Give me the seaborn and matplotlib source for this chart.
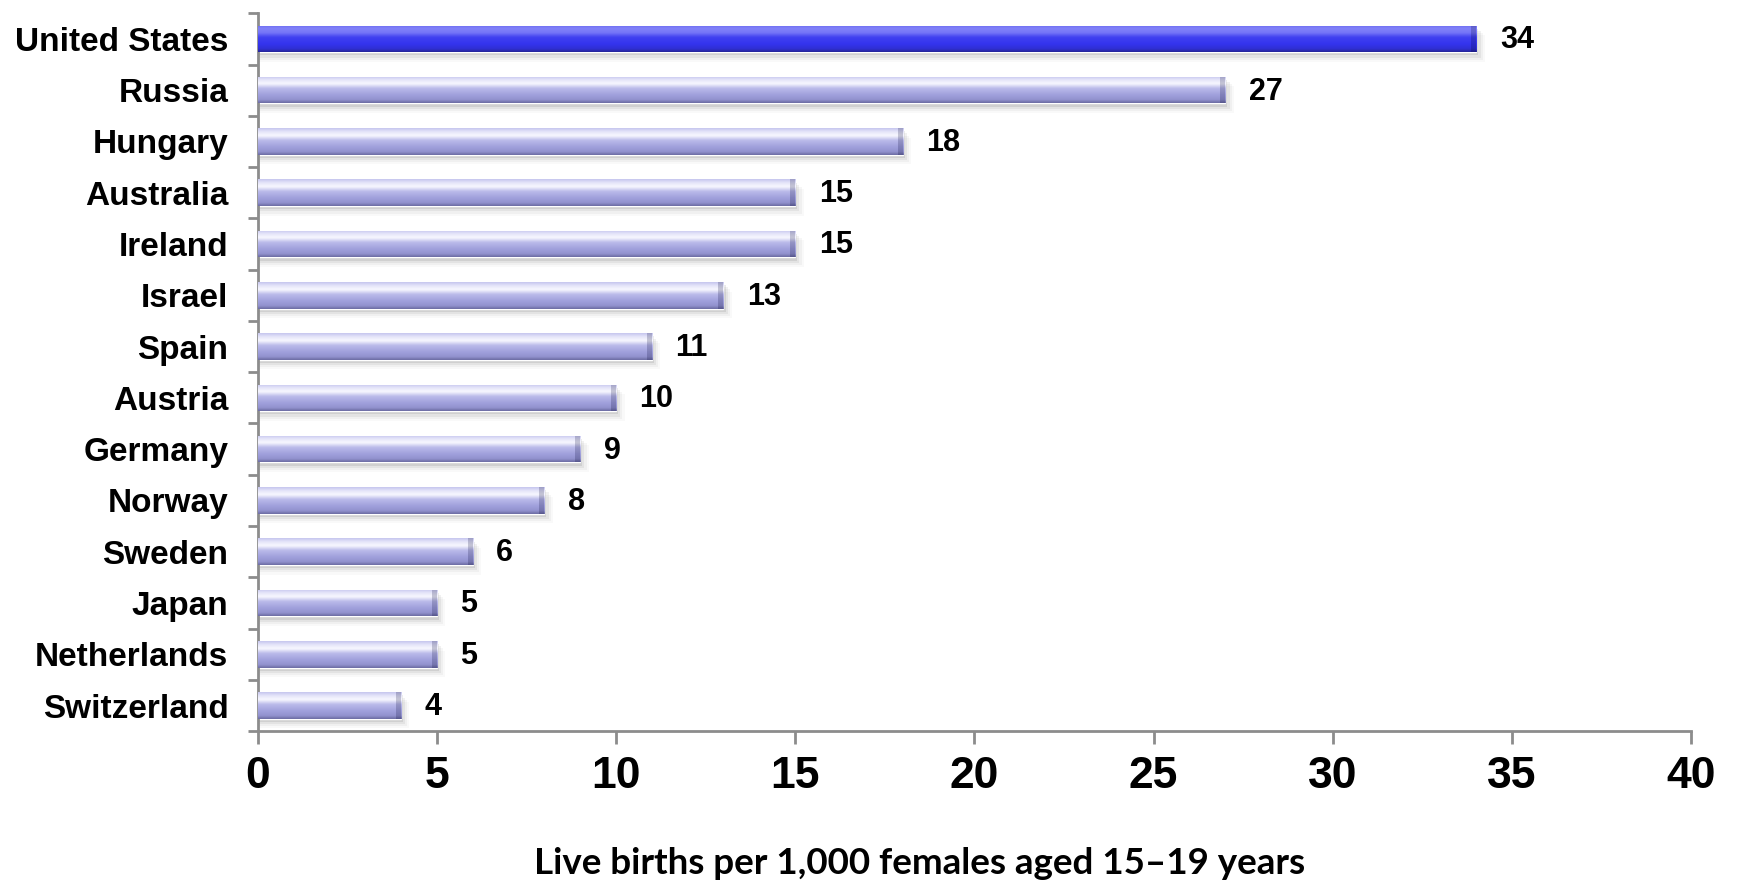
import numpy as np
import pandas as pd
import matplotlib
matplotlib.use("Agg")
import matplotlib.pyplot as plt
from matplotlib.colors import LinearSegmentedColormap
from matplotlib.patches import Rectangle
import seaborn as sns

countries = ["United States", "Russia", "Hungary", "Australia", "Ireland", "Israel",
             "Spain", "Austria", "Germany", "Norway", "Sweden", "Japan",
             "Netherlands", "Switzerland"]
births = [34, 27, 18, 15, 15, 13, 11, 10, 9, 8, 6, 5, 5, 4]
highlight = ["United States"]
x_ticks = [0, 5, 10, 15, 20, 25, 30, 35, 40]
x_label = "Live births per 1,000 females aged 15\u201319 years"

df = pd.DataFrame({"country": countries, "births": births})
df["group"] = np.where(df["country"].isin(highlight), "hi", "lo")

sns.set_theme(style="white")
plt.rcParams["font.family"] = ["Liberation Sans", "DejaVu Sans"]
plt.rcParams["text.color"] = "black"
plt.rcParams["xtick.labelcolor"] = "black"
plt.rcParams["ytick.labelcolor"] = "black"
plt.rcParams["axes.labelcolor"] = "black"

fig = plt.figure(figsize=(17.4, 8.82), dpi=100)
ax = fig.add_axes([0.148, 0.171, 0.824, 0.814])

base = {"hi": "#3535EE", "lo": "#A4A4E0"}
sns.barplot(data=df, x="births", y="country", hue="group", palette=base,
            orient="h", width=0.52, dodge=False, legend=False, ax=ax,
            order=countries)

# glossy vertical shading for each bar
shade_lo = LinearSegmentedColormap.from_list("lo", [
    (0.0, "#C4C4EE"), (0.12, "#E2E2F8"), (0.28, "#F8F8FF"), (0.45, "#BBBBEA"),
    (0.7, "#A0A0DC"), (0.88, "#9292CE"), (1.0, "#6A6AA0")])
shade_hi = LinearSegmentedColormap.from_list("hi", [
    (0.0, "#6A6AF2"), (0.12, "#8282F8"), (0.28, "#7676F8"), (0.45, "#4040F0"),
    (0.7, "#3434EE"), (0.88, "#3030D4"), (1.0, "#242494")])
grad = np.linspace(0, 1, 256).reshape(-1, 1)

for patch, grp in zip(ax.patches, df["group"]):
    x0, y0 = patch.get_x(), patch.get_y()
    w, h = patch.get_width(), patch.get_height()
    if w <= 0:
        continue
    # soft drop shadow under the bar
    for k, a in enumerate([0.12, 0.08, 0.05, 0.03]):
        sh = Rectangle((x0, y0 + h * (0.12 + 0.08 * k)), w + 0.06 * (k + 1), h,
                       facecolor="#505050", edgecolor="none", alpha=a, zorder=1)
        ax.add_patch(sh)
    patch.set_zorder(2)
    cmap = shade_hi if grp == "hi" else shade_lo
    im = ax.imshow(grad, cmap=cmap, aspect="auto", extent=(x0, x0 + w, y0 + h, y0),
                   zorder=3, interpolation="bicubic")
    im.set_clip_path(patch)
    # bevelled right end
    end = Rectangle((x0 + w - 0.14, y0), 0.14, h, facecolor="#000030",
                    edgecolor="none", alpha=0.2, zorder=4)
    ax.add_patch(end)

ax.set_xlim(0, 40)
ax.set_ylim(len(countries) - 0.5, -0.5)
ax.set_xticks(x_ticks)
ax.set_xticklabels([str(t) for t in x_ticks], fontsize=32, fontweight="bold")
ax.set_yticks(range(len(countries)))
ax.set_yticklabels(countries, fontsize=24, fontweight="bold")
ax.set_yticks(np.arange(-0.5, len(countries), 1.0), minor=True)
ax.tick_params(axis="y", which="major", length=0, pad=21)
ax.tick_params(axis="y", which="minor", left=True, length=7, width=2, color="#8C8C8C")
ax.tick_params(axis="x", which="major", bottom=True, length=9, width=2,
               color="#8C8C8C", pad=9)
ax.set_xlabel(x_label, fontsize=26.5, fontweight="bold",
              family=["Lato", "Liberation Sans"])
ax.xaxis.label.set_va("center")
ax.xaxis.set_label_coords(0.462, -0.184)
ax.set_ylabel("")

for side in ["top", "right"]:
    ax.spines[side].set_visible(False)
for side in ["left", "bottom"]:
    ax.spines[side].set_color("#8C8C8C")
    ax.spines[side].set_linewidth(2)

for i, v in enumerate(births):
    ax.annotate(str(v), xy=(v, i), xytext=(17, -1), textcoords="offset points",
                ha="left", va="center", fontsize=22, fontweight="bold", color="black")

fig.savefig("out.png", dpi=100)
